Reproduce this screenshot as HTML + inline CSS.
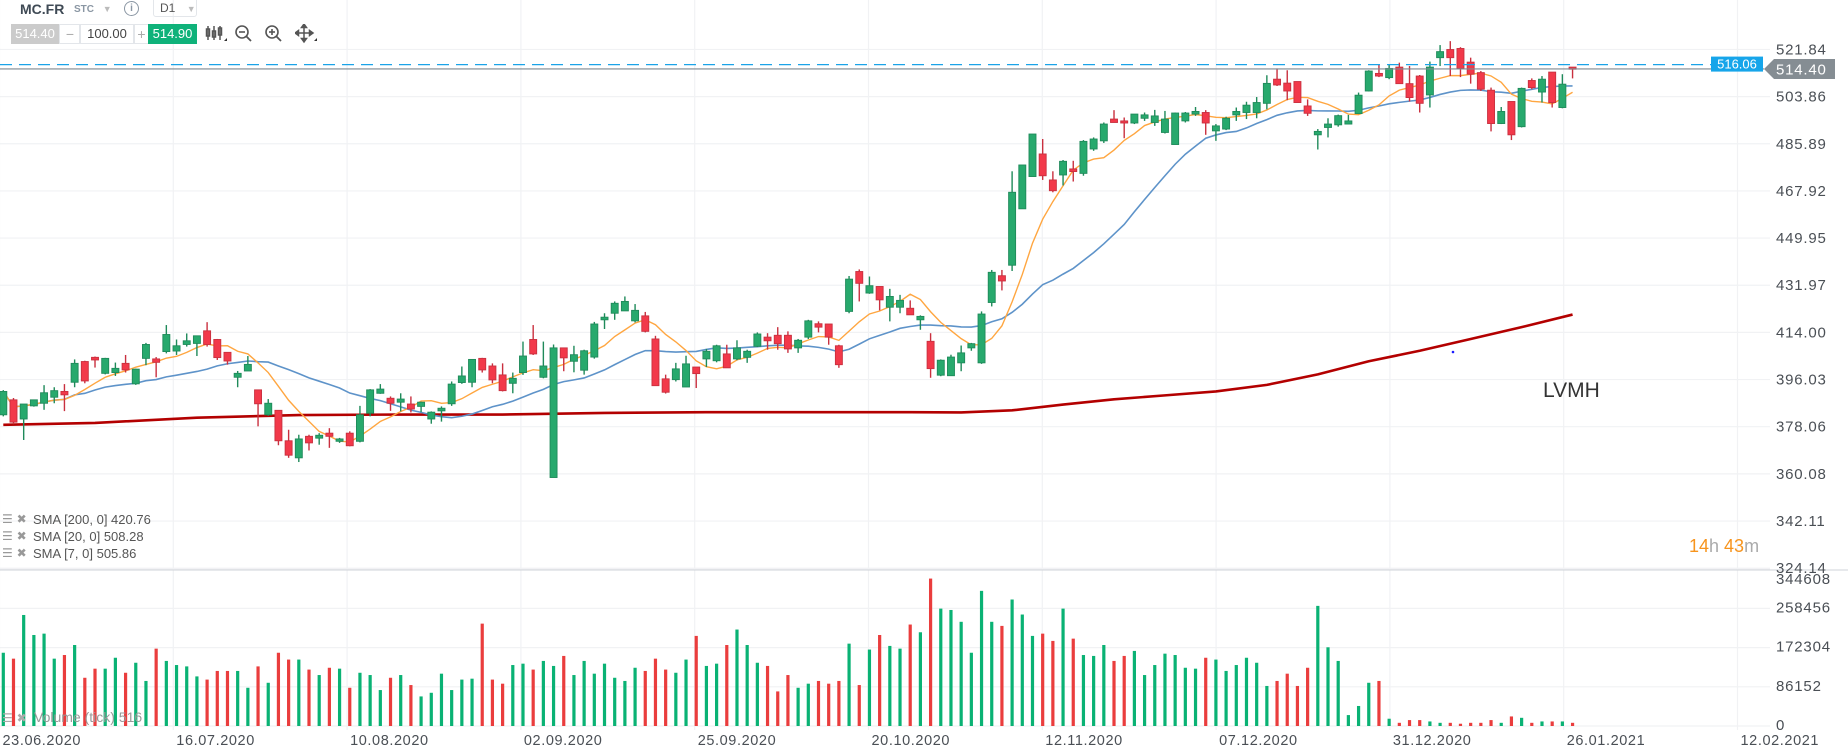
<!DOCTYPE html>
<html><head><meta charset="utf-8">
<style>
html,body{margin:0;padding:0;background:#fff;}
body{width:1848px;height:755px;overflow:hidden;position:relative;font-family:"Liberation Sans",sans-serif;}
#chart{position:absolute;left:0;top:0;}
.hdr{position:absolute;font-family:"Liberation Sans",sans-serif;}
</style></head><body>
<svg id="chart" width="1848" height="755" viewBox="0 0 1848 755" xmlns="http://www.w3.org/2000/svg">
  <g id="grid"></g>
  <g id="sma"></g>
  <g id="candles"></g>
  <g id="vol"></g>
  <g id="axes"></g>
</svg>

<div class="hdr" style="left:20px;top:1px;font-size:14px;font-weight:bold;color:#3f4a55;">MC.FR</div>
<div class="hdr" style="left:74px;top:4px;font-size:10px;font-weight:bold;color:#8a96a3;">STC <span style="color:#bbb;font-size:9px;margin-left:6px">▼</span></div>
<div class="hdr" style="left:124px;top:1px;width:13px;height:13px;border:1.5px solid #8a96a3;border-radius:50%;font-size:10px;color:#8a96a3;text-align:center;line-height:13px;font-weight:bold;">i</div>
<div class="hdr" style="left:153px;top:-3px;width:44px;height:20px;border:1px solid #e3e6ea;border-radius:3px;font-size:12px;color:#555;line-height:20px;padding-left:6px;box-sizing:border-box;">D1 <span style="color:#bbb;font-size:9px;margin-left:8px">▼</span></div>
<div class="hdr" style="left:11px;top:24px;width:48px;height:20px;background:#cbcbcb;color:#fff;font-size:13px;line-height:20px;text-align:center;">514.40</div>
<div class="hdr" style="left:59px;top:24px;width:20px;height:18px;border:1px solid #e3e6ea;color:#aaa;font-size:14px;line-height:18px;text-align:center;">−</div>
<div class="hdr" style="left:79px;top:24px;width:54px;height:18px;border:1px solid #e3e6ea;color:#444;font-size:13px;line-height:18px;text-align:center;">100.00</div>
<div class="hdr" style="left:133px;top:24px;width:15px;height:18px;border:1px solid #e3e6ea;color:#aaa;font-size:14px;line-height:18px;text-align:center;">+</div>
<div class="hdr" style="left:148px;top:24px;width:49px;height:20px;background:#0fb27a;color:#fff;font-size:13px;line-height:20px;text-align:center;">514.90</div>
<svg class="hdr" style="left:205px;top:24px" width="22" height="20"><g stroke="#555" stroke-width="1.5" fill="none"><line x1="3" y1="2" x2="3" y2="16"/><rect x="1.5" y="5" width="3" height="7"/><line x1="9" y1="2" x2="9" y2="16"/><rect x="7.5" y="7" width="3" height="6"/><line x1="15" y1="2" x2="15" y2="16"/><rect x="13.5" y="4" width="3" height="7"/></g><path d="M19 17 L22 17 L22 14Z" fill="#333"/></svg>
<svg class="hdr" style="left:234px;top:24px" width="20" height="20"><circle cx="8" cy="8" r="6" stroke="#555" stroke-width="1.6" fill="none"/><line x1="5" y1="8" x2="11" y2="8" stroke="#555" stroke-width="1.6"/><line x1="12.5" y1="12.5" x2="17" y2="17" stroke="#555" stroke-width="1.8"/></svg>
<svg class="hdr" style="left:264px;top:24px" width="20" height="20"><circle cx="8" cy="8" r="6" stroke="#555" stroke-width="1.6" fill="none"/><line x1="5" y1="8" x2="11" y2="8" stroke="#555" stroke-width="1.6"/><line x1="8" y1="5" x2="8" y2="11" stroke="#555" stroke-width="1.6"/><line x1="12.5" y1="12.5" x2="17" y2="17" stroke="#555" stroke-width="1.8"/></svg>
<svg class="hdr" style="left:295px;top:24px" width="22" height="20"><g stroke="#555" stroke-width="1.5" fill="#555"><line x1="9" y1="1" x2="9" y2="17"/><line x1="1" y1="9" x2="17" y2="9"/><path d="M9 0 L6.5 3.5 L11.5 3.5Z"/><path d="M9 18 L6.5 14.5 L11.5 14.5Z"/><path d="M0 9 L3.5 6.5 L3.5 11.5Z"/><path d="M18 9 L14.5 6.5 L14.5 11.5Z"/></g><path d="M19 17 L22 17 L22 14Z" fill="#333"/></svg>

<script>
// ---- data ----
const opens=[382.6,388.3,381,386,387,389.3,391.5,395,402.9,404.5,
398.4,398.7,402.2,394.4,404.1,403.9,406.7,406.9,409.4,409.8,
414.6,411.3,406.4,396.9,399.3,392.1,382.6,384.3,372.7,366.2,
374.4,373.7,375.6,372.5,375.6,372.5,383.2,390.8,388.9,387.4,
386.7,385.8,381,384.1,386.8,394.9,395,404.1,401.2,397.8,
394.6,398.7,411.3,396.9,358.7,408.1,403,399.6,404.6,418.8,
421.3,422.2,418.4,420.3,411.5,396.3,396,393.2,400.8,403.9,
403.2,405.8,403.9,404.5,408.7,412.2,412.9,412.9,408.1,412.2,
417.3,417.2,408.9,422,437.2,429,431.5,423.6,423.6,423.2,
418.8,410.6,397.7,397.5,402.4,408.1,402.4,425.4,435.6,439.6,
461.1,473.4,482,472.1,474,476.3,474.6,483.9,487,495.3,
494.6,493.8,495.6,494,490.2,485.6,494.6,497.2,497.8,490.8,
491.5,496.9,497.8,497.8,501.3,510.5,509,509.6,500.3,489.3,
492.1,493.1,493.4,497.4,506,512.7,511.1,515.1,508.8,511.7,
504.5,518.7,521.8,522.2,517,513,506.3,493.6,502,492.4,
510,505.6,513.2,499.7,515.1];
const closes=[391.5,379.8,386.7,388.3,391,391.8,390.2,402.2,395.5,403.5,
404.1,400.3,399.7,400,409.4,402.6,413.2,408.9,410.8,412.7,
409.4,404.4,403.1,398.4,401.8,386.8,387,372.7,367.2,373.4,
371.9,374.8,374.4,373.4,370.8,382.6,392.1,392.4,387,388.6,
384.8,387.4,383.6,385.1,394.3,397.4,403.7,399.7,395.9,391.8,
396.5,405,405.8,401.2,408.1,404.3,405.5,407,417.2,419.8,
425.1,425.8,422.4,414.4,393.7,391.2,400.1,402,398.3,406.8,
408.9,400.5,408.1,406.8,413.4,410.8,409.7,407.7,411,418.4,
416,412.2,401.7,434.3,432.7,431.8,426.4,427.7,426.2,420.7,
420.1,400.2,403.4,404.6,406.2,409.7,421,436.9,433.6,467.4,
477.8,489.6,473.7,468,479.2,475.3,486.8,487.7,493.4,494,
493.8,497.2,496.9,496.5,495.3,497.6,497.6,498.2,493.8,492.7,
495.6,498.2,500.6,501.6,508.9,508.3,506,501.6,497.5,490.6,
493.4,496.6,494.6,504.4,513.6,511.7,514.6,508.8,503.5,501.3,
515.1,521,518.7,514.6,512.4,506.7,493.6,498.2,489.3,507,
507.3,510.5,501.6,508.6,514.3];
const highs=[392,389,386.7,388.3,393.9,393.1,394.3,403.7,403.2,404.8,
404.3,402.5,405.4,400.2,410,404.6,416.8,411.3,413.6,412.7,
417.9,411.5,406.4,399.3,405,392.1,388.6,384.3,376.9,375,
375,375.6,377.5,373.8,376.3,386,392.4,394.3,389.6,390.8,
389.6,387.6,383.9,385.8,395.3,401,403.7,404.3,402.2,402.2,
398.7,410.5,416.8,410.5,409.4,408.1,408.9,407.4,418,421.3,
425.8,427.7,424.8,421.8,412.7,397.9,402.4,405.1,400.8,407.7,
409.3,409.3,411,407.4,414,413.7,416,414.4,411.5,418.8,
418.2,417.2,409.3,435.5,438,435.3,431.5,430.6,428.3,426.2,
420.5,413.7,403.7,405.5,409,410,422,437.8,437.8,475.4,
477.8,489.6,487.7,475.4,479.7,479.4,487.3,488.3,494,498.7,
495.9,497.2,497.8,498.8,498.4,497.8,498,499.9,498.7,493.4,
496.2,499.7,501.9,503.7,512,514.6,513.9,509.6,502.8,491.5,
495.6,497,496.9,505.4,513.9,516.2,515.9,516.8,515.5,512.1,
517.2,523.5,525,522.7,518.7,513.6,507.3,499.9,502,507.3,
510.8,511.7,513.2,512.4,515.1];
const lows=[382,379,373,385.7,384.5,387,384,393.1,394.6,400.6,
398,397.4,398.7,394,401.5,396.9,406,405.4,408.6,405,
408.6,403.5,401.7,393.1,399.3,378.2,382.2,371,366.2,364.6,
369,371.2,370,371.9,370.6,372.1,382,390.6,384.1,383.9,
383.5,383.6,379.2,380,386,394.4,393.1,398.7,394.6,391.5,
390.8,397.8,405.4,396.5,358.7,399.2,398.8,397.9,404,415.3,
418.8,422.2,417.8,414,393.7,390.7,395.3,393.2,392.8,400.8,
402.6,400.5,403.4,402.4,408.4,407.4,407.4,406.2,406.2,411.5,
414,409.3,400.5,421.3,425.8,428.7,422.4,418.2,421.3,420.7,
415,396.7,397.3,397.5,399.2,407,402,423.9,430,437.4,
461.1,473.4,472.1,467.4,470,471.5,473.7,483.2,486.2,494,
488,493.4,494.6,492.7,489.8,485.6,494,496.5,489.3,487,
491.1,494.6,495.3,495.6,499,507.9,502.5,501.6,496.5,483.7,
488.3,492.4,493.4,497.2,505.8,511.3,510.5,508.8,502,497.8,
499.7,515.5,511.7,511.3,508.8,506,490.6,493.4,487.3,492.1,
506.7,501.6,499.7,499.4,510.8];
const volumesK=[161,148,244,200,203,148,156,178,106,126,
126,150,117,139,99,170,143,134,131,109,
102,121,121,121,84,131,95,161,146,146,
124,112,128,126,84,117,112,79,106,112,
90,65,73,115,79,102,104,225,102,93,
134,137,124,143,132,154,112,143,115,137,
106,99,128,121,148,124,117,146,198,132,
137,178,212,178,139,132,76,112,84,93,
99,93,99,181,90,168,200,176,170,223,
206,324,258,255,229,161,297,229,220,278,
245,198,203,187,258,192,156,154,178,143,
154,165,112,134,159,156,128,126,150,146,
121,134,150,139,88,99,115,88,128,264,
173,143,24,44,95,99,16,7,13,13,
10,7,7,5,7,7,13,7,21,18,
7,10,10,10,7];
const sma200Idx=[0,9,19,29,39,49,59,69,79,89,94,99,104,109,114,119,124,129,134,139,144,149,154];
const sma200Val=[378.8,379.5,381.5,382.5,382.7,382.7,383.3,383.6,383.6,383.6,383.5,384.3,386.5,388.5,390,391.5,394,398,403,407,411.5,416,420.8];
const priceTicks=["521.84","503.86","485.89","467.92","449.95","431.97","414.00","396.03","378.06","360.08","342.11","324.14"];
const volTicks=["344608","258456","172304","86152","0"];
const dateLabels=["23.06.2020","16.07.2020","10.08.2020","02.09.2020","25.09.2020","20.10.2020","12.11.2020","07.12.2020","31.12.2020","26.01.2021","12.02.2021"];
const bidPrice=514.40, askLine=516.06;

// ---- scales ----
const NS='http://www.w3.org/2000/svg';
const y=p=>332.4-(p-414)*2.624;
const x=i=>3.3+i*10.19;
const vy=v=>726-v*39.2/86152;
const gx=k=>-0.5+k*173.8;
function mk(tag,attrs,parent){const e=document.createElementNS(NS,tag);for(const k in attrs)e.setAttribute(k,attrs[k]);parent.appendChild(e);return e;}
const G=document.getElementById('grid'),S=document.getElementById('sma'),C=document.getElementById('candles'),V=document.getElementById('vol'),A=document.getElementById('axes');

// grid
priceTicks.forEach(t=>{const l=mk('line',{x1:0,x2:1770,y1:y(+t),y2:y(+t),stroke:'#f1f2f4','stroke-width':1.2},G);

});
volTicks.forEach(t=>{const l=mk('line',{x1:0,x2:1770,y1:vy(+t),y2:vy(+t),stroke:'#f1f2f4','stroke-width':1.2},G);

});
dateLabels.forEach((d,k)=>{const l=mk('line',{x1:gx(k),x2:gx(k),y1:0,y2:730,stroke:'#f1f2f4','stroke-width':1.2},G);

});
const sep=mk('line',{x1:0,x2:1848,y1:570,y2:570,stroke:'#cfd3d8','stroke-width':1},G);



// SMAs
function sma(n){return closes.map((c,i)=>{const s=closes.slice(Math.max(0,i-n+1),i+1);return s.reduce((a,b)=>a+b,0)/s.length;});}
const s200=mk('polyline',{points:sma200Idx.map((i,k)=>x(i)+','+y(sma200Val[k])).join(' '),fill:'none',stroke:'#b30000','stroke-width':2.6,'stroke-linejoin':'round'},S);


const s20=mk('polyline',{points:sma(20).map((v,i)=>x(i)+','+y(v)).join(' '),fill:'none',stroke:'#5e93c9','stroke-width':1.6},S);


const s7=mk('polyline',{points:sma(7).map((v,i)=>x(i)+','+y(v)).join(' '),fill:'none',stroke:'#ffa640','stroke-width':1.4},S);



// candles
closes.forEach((c,i)=>{
  const o=opens[i],up=c>=o,cx=x(i);
  const edge=up?'#1f8a5a':'#c9303f',fill=up?'#27a96d':'#f2394a';
  const w=mk('line',{x1:cx,x2:cx,y1:y(highs[i]),y2:y(lows[i]),stroke:edge,'stroke-width':1.4},C);
  
  
  const t=y(Math.max(o,c)),b=y(Math.min(o,c));
  const r=mk('rect',{x:cx-3.5,y:t,width:7,height:Math.max(1.2,b-t),fill:fill,stroke:edge,'stroke-width':0.9},C);
  
  
  const vb=mk('rect',{x:cx-1.6,y:vy(volumesK[i]*1000),width:3.2,height:726-vy(volumesK[i]*1000),fill:up?'#0ab274':'#ea3d3d'},V);
  
  
});

// price lines
const ask=mk('line',{x1:0,x2:1711,y1:y(askLine),y2:y(askLine),stroke:'#1aa3e8','stroke-width':1.2,'stroke-dasharray':'12,7'},A);


const bid=mk('line',{x1:0,x2:1764,y1:y(bidPrice),y2:y(bidPrice),stroke:'#7d878f','stroke-width':1.2},A);


const ab=mk('rect',{x:1711,y:y(askLine)-8,width:52,height:15,fill:'#16a5ea'},A);


const at=mk('text',{x:1737,y:y(askLine)+4,'font-size':13,fill:'#fff','text-anchor':'middle','font-family':'Liberation Sans, sans-serif'},A);
at.textContent=askLine.toFixed(2);


const yb=y(bidPrice);
const bt=mk('path',{d:`M1764 ${yb} L1774 ${yb-10} L1835 ${yb-10} L1835 ${yb+10} L1774 ${yb+10} Z`,fill:'#858d93'},A);


const btt=mk('text',{x:1776,y:yb+5.5,'font-size':15,fill:'#fff','font-family':'Liberation Sans, sans-serif','letter-spacing':'0.8'},A);
btt.textContent=bidPrice.toFixed(2);



// axis labels
priceTicks.forEach(t=>{if(t==="514.40")return;const e=mk('text',{x:1776,y:y(+t)+5,'font-size':15,fill:'#4a4f55','font-family':'Liberation Sans, sans-serif','letter-spacing':'0.8'},A);e.textContent=t;

});
volTicks.forEach((t,k)=>{const e=mk('text',{x:1776,y:(k===0?579:vy(+t)-1)+5,'font-size':15,fill:'#4a4f55','font-family':'Liberation Sans, sans-serif','letter-spacing':'0.8'},A);e.textContent=t;

});
dateLabels.forEach((d,k)=>{const e=mk('text',{x:gx(k)+3,y:745,'font-size':14.5,fill:'#4a4f55','font-family':'Liberation Sans, sans-serif','letter-spacing':'0.6'},A);e.textContent=d;

});

// legend
const legend=["SMA [200, 0] 420.76","SMA [20, 0] 508.28","SMA [7, 0] 505.86"];
legend.forEach((t,k)=>{const yy=519+k*17;
 const ic=mk('text',{x:2,y:yy+4,'font-size':12,fill:'#999','font-family':'DejaVu Sans, sans-serif'},A);ic.textContent='☰ ✖';
 
 
 const e=mk('text',{x:33,y:yy+5,'font-size':13,fill:'#555','font-family':'Liberation Sans, sans-serif'},A);e.textContent=t;
 
 });
const vic=mk('text',{x:2,y:722,'font-size':12,fill:'#aaa','font-family':'DejaVu Sans, sans-serif'},A);vic.textContent='☰ ✖';


const vl=mk('text',{x:34,y:722,'font-size':14,fill:'#999','font-family':'Liberation Sans, sans-serif'},A);vl.textContent='Volume (tick) 516';



// annotations
const lv=mk('text',{x:1543,y:397,'font-size':21,fill:'#333','font-family':'Liberation Sans, sans-serif'},A);lv.textContent='LVMH';


const tm=mk('text',{x:1689,y:552,'font-size':18,'font-family':'Liberation Sans, sans-serif'},A);
tm.innerHTML='<tspan fill="#f7941d">14</tspan><tspan fill="#aaa">h </tspan><tspan fill="#f7941d">43</tspan><tspan fill="#aaa">m</tspan>';


const dot=mk('circle',{cx:1453,cy:352,r:1.3,fill:'#1a1aff'},A);


</script>
</body></html>
